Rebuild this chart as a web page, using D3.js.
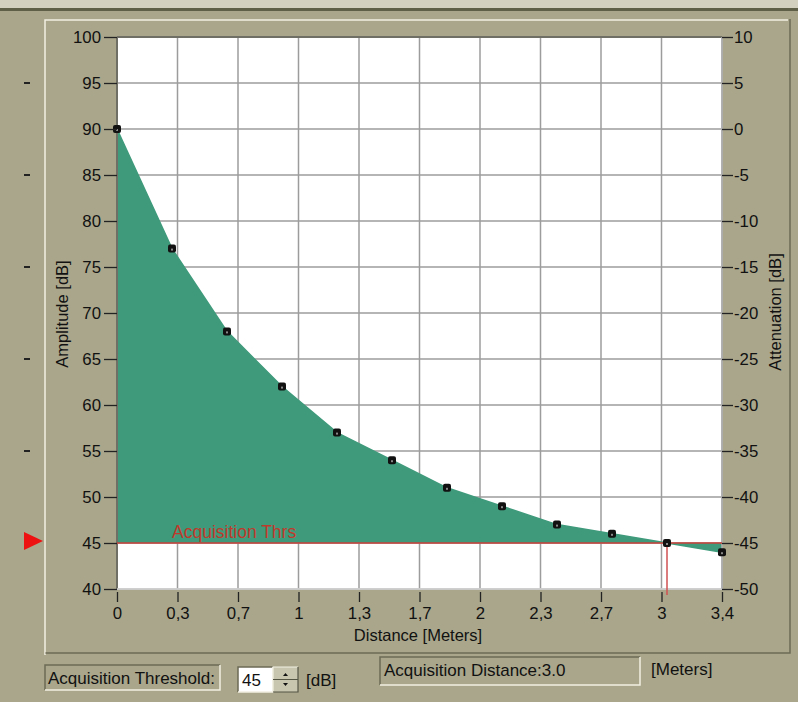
<!DOCTYPE html>
<html><head><meta charset="utf-8">
<script src="https://cdn.jsdelivr.net/npm/d3@7"></script>
<style>
html,body{margin:0;padding:0;background:#a9a68b;}
svg{display:block;}
text{font-family:"Liberation Sans",Arial,sans-serif;}
</style></head>
<body><svg id="c" width="798" height="702"></svg>
<script>
// ---- data ----
const distance = [0, 0.3048, 0.6096, 0.9144, 1.2192, 1.524, 1.8288, 2.1336, 2.4384, 2.7432, 3.048, 3.3528];
const amplitude = [90, 77, 68, 62, 57, 54, 51, 49, 47, 46, 45, 44];
const xTickValues = [0, 0.33528, 0.67056, 1.00584, 1.34112, 1.6764, 2.01168, 2.34696, 2.68224, 3.01752, 3.3528];
const xTickLabels = ["0", "0,3", "0,7", "1", "1,3", "1,7", "2", "2,3", "2,7", "3", "3,4"];
const yTicks = [40, 45, 50, 55, 60, 65, 70, 75, 80, 85, 90, 95, 100];
const yRightTicks = [-50, -45, -40, -35, -30, -25, -20, -15, -10, -5, 0, 5, 10];
const sideMarks = [95, 85, 75, 65, 55];
const threshold = 45;
const acqDistance = 3.048;

const FONT = "Liberation Sans, Arial, sans-serif";
const FS = 16.8;
const svg = d3.select("#c");
const x = d3.scaleLinear().domain([0, 3.3528]).range([117, 722]);
const y = d3.scaleLinear().domain([40, 100]).range([589, 37]);
const yR = d3.scaleLinear().domain([-50, 10]).range([589, 37]);

// window top
svg.append("rect").attr("x",0).attr("y",0).attr("width",798).attr("height",8).attr("fill","#d3d0bf");
svg.append("rect").attr("x",0).attr("y",8).attr("width",798).attr("height",3).attr("fill","#5f5e47");

// etched panel
svg.append("path").attr("d","M45,655 V20 H788").attr("fill","none").attr("stroke","#f2f0e2").attr("stroke-width",1.5);
svg.append("path").attr("d","M45.5,653 H790 V19").attr("fill","none").attr("stroke","#6c6b55").attr("stroke-width",1.5);

// plot background
svg.append("rect").attr("x",x(0)).attr("y",y(100)).attr("width",x(3.3528)-x(0)).attr("height",y(40)-y(100)).attr("fill","#ffffff");

// grid
const g = svg.append("g");
g.selectAll(".gx").data(xTickValues).join("line")
  .attr("x1",d=>x(d)).attr("x2",d=>x(d)).attr("y1",y(100)).attr("y2",y(40))
  .attr("stroke","#9c9c9c").attr("stroke-width",1.5);
g.selectAll(".gy").data(yTicks).join("line")
  .attr("x1",x(0)).attr("x2",x(3.3528)).attr("y1",d=>y(d)).attr("y2",d=>y(d))
  .attr("stroke","#9c9c9c").attr("stroke-width",1.5);

// area between curve and threshold
const pts = distance.map((d,i)=>({d, a: amplitude[i]}));
const area = d3.area().x(p=>x(p.d)).y0(y(threshold)).y1(p=>y(p.a));
svg.append("path").datum(pts).attr("d",area).attr("fill","#3f9a7b");
svg.append("path").datum(pts).attr("d",d3.line().x(p=>x(p.d)).y(p=>y(p.a)))
  .attr("fill","none").attr("stroke","#3f9a7b").attr("stroke-width",1.5);

// plot frame
svg.append("line").attr("x1",x(0)).attr("x2",x(3.3528)).attr("y1",y(100)).attr("y2",y(100)).attr("stroke","#6f6f66").attr("stroke-width",2);
svg.append("line").attr("x1",x(0)).attr("x2",x(0)).attr("y1",y(100)).attr("y2",y(40)).attr("stroke","#6f6f66").attr("stroke-width",2);
svg.append("line").attr("x1",x(0)).attr("x2",x(3.3528)).attr("y1",y(40)).attr("y2",y(40)).attr("stroke","#d8d8d8").attr("stroke-width",1.5);
svg.append("line").attr("x1",x(3.3528)).attr("x2",x(3.3528)).attr("y1",y(100)).attr("y2",y(40)).attr("stroke","#b0b0b0").attr("stroke-width",1.5);

// threshold lines
svg.append("line").attr("x1",x(0)).attr("x2",x(3.3528)).attr("y1",y(threshold)).attr("y2",y(threshold))
  .attr("stroke","#c8403a").attr("stroke-width",1.5);
svg.append("line").attr("x1",x(acqDistance)).attr("x2",x(acqDistance)).attr("y1",y(threshold)).attr("y2",y(40)+6)
  .attr("stroke","#d05050").attr("stroke-width",1.5);
svg.append("text").attr("x",172).attr("y",y(threshold)-5).attr("font-size",17.5).attr("fill","#c0392b").text("Acquisition Thrs");

// markers
const mk = svg.append("g");
mk.selectAll("rect.m").data(pts).join("rect")
  .attr("x",p=>x(p.d)-4).attr("y",p=>y(p.a)-4).attr("width",8).attr("height",8).attr("rx",2)
  .attr("fill","#111");
mk.selectAll("rect.c").data(pts).join("rect").attr("class","c")
  .attr("x",p=>x(p.d)-1).attr("y",p=>y(p.a)).attr("width",2).attr("height",2).attr("fill","#888");

// axes
function styleAxis(sel){
  sel.select(".domain").remove();
  sel.selectAll(".tick line").attr("stroke","#222").attr("stroke-width",1.3);
  sel.selectAll(".tick text").attr("fill","#111").attr("font-size",FS).attr("font-family",FONT);
}
const axL = svg.append("g").attr("transform",`translate(${x(0)},0)`)
  .call(d3.axisLeft(y).tickValues(yTicks).tickSize(13).tickPadding(3).tickFormat(d3.format("d")));
styleAxis(axL);
const axR = svg.append("g").attr("transform",`translate(${x(3.3528)},0)`)
  .call(d3.axisRight(yR).tickValues(yRightTicks).tickSize(11).tickPadding(1).tickFormat(d=>String(d)));
styleAxis(axR);
const axB = svg.append("g").attr("transform",`translate(0,${y(40)+3})`)
  .call(d3.axisBottom(x).tickValues(xTickValues).tickSize(10).tickPadding(5).tickFormat((d,i)=>xTickLabels[i]));
styleAxis(axB);

// axis titles
svg.append("text").attr("transform","translate(68,314) rotate(-90)").attr("text-anchor","middle")
  .attr("font-size",16.5).attr("fill","#111").text("Amplitude [dB]");
svg.append("text").attr("transform","translate(781,312) rotate(-90)").attr("text-anchor","middle")
  .attr("font-size",16.5).attr("fill","#111").text("Attenuation [dB]");
svg.append("text").attr("x",418).attr("y",641).attr("text-anchor","middle")
  .attr("font-size",16.5).attr("fill","#111").text("Distance [Meters]");

// side marks and threshold pointer
svg.selectAll("line.sm").data(sideMarks).join("line")
  .attr("x1",24).attr("x2",30).attr("y1",d=>y(d)).attr("y2",d=>y(d)).attr("stroke","#222").attr("stroke-width",2);
const ty = y(threshold)-2;
svg.append("path").attr("d",`M24,${ty-9} L43,${ty} L24,${ty+9} Z`).attr("fill","#ee1111");

// bottom controls
function sunken(x0,y0,w,h,fill){
  if(fill) svg.append("rect").attr("x",x0).attr("y",y0).attr("width",w).attr("height",h).attr("fill",fill);
  svg.append("path").attr("d",`M${x0},${y0+h} V${y0} H${x0+w}`).attr("fill","none").attr("stroke","#6c6b55").attr("stroke-width",1.5);
  svg.append("path").attr("d",`M${x0},${y0+h} H${x0+w} V${y0}`).attr("fill","none").attr("stroke","#f2f0e2").attr("stroke-width",1.5);
}
sunken(45,665,175,25,null);
svg.append("text").attr("x",48).attr("y",684).attr("font-size",17).attr("fill","#111").text("Acquisition Threshold:");

sunken(238,667,35,25,"#ffffff");
svg.append("text").attr("x",242).attr("y",686).attr("font-size",17).attr("fill","#111").text(String(threshold));
// spinner
svg.append("rect").attr("x",273).attr("y",667).attr("width",25).attr("height",25).attr("fill","#c9c6b0");
svg.append("path").attr("d","M273,692 V667 H298").attr("fill","none").attr("stroke","#f2f0e2").attr("stroke-width",1.2);
svg.append("path").attr("d","M273,692 H298 V667 M273,679.5 H298").attr("fill","none").attr("stroke","#555544").attr("stroke-width",1.2);
svg.append("path").attr("d","M283,676 L285.5,673 L288,676 Z").attr("fill","#111");
svg.append("path").attr("d","M283,683 L285.5,686 L288,683 Z").attr("fill","#111");
svg.append("text").attr("x",306).attr("y",686).attr("font-size",17).attr("fill","#111").text("[dB]");

sunken(380,657,260,28,null);
svg.append("text").attr("x",384).attr("y",676).attr("font-size",17).attr("fill","#111").text("Acquisition Distance:3.0");
svg.append("text").attr("x",651).attr("y",675).attr("font-size",17).attr("fill","#111").text("[Meters]");
</script></body></html>
